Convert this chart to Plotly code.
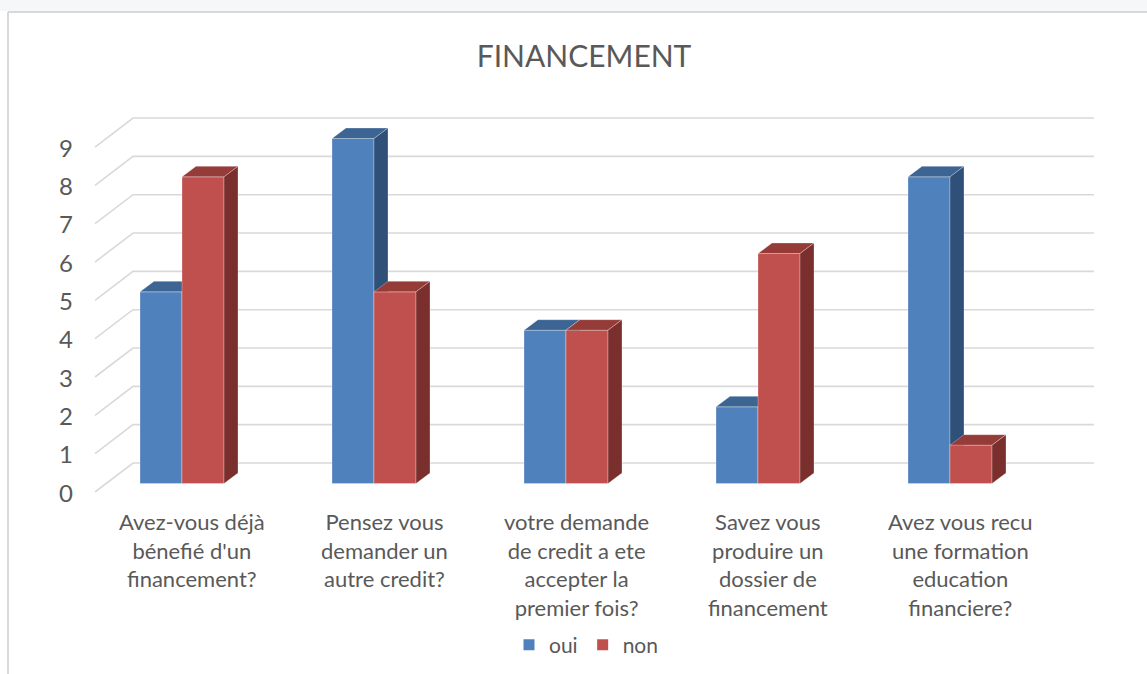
import plotly.graph_objects as go

# ---------------- data ----------------
categories = [
    "Avez-vous déjà<br>bénefié d'un<br>financement?",
    "Pensez vous<br>demander un<br>autre credit?",
    "votre demande<br>de credit a ete<br>accepter la<br>premier fois?",
    "Savez vous<br>produire un<br>dossier de<br>financement",
    "Avez vous recu<br>une formation<br>education<br>financiere?",
]
series_names = ["oui", "non"]
oui = [5, 9, 4, 2, 8]
non = [8, 5, 4, 6, 1]
y_ticks = [0, 1, 2, 3, 4, 5, 6, 7, 8, 9]
title_text = "FINANCEMENT"

# ---------------- style / geometry ----------------
PX_W, PX_H = 1147, 674
X0_PX, PX_PER_X = 182.0, 192.0      # pixel of x=0, pixels per category
Y0_PX, PX_PER_Y = 483.5, 38.33      # pixel of y=0 (bar front base), pixels per unit

BAR_W = 42 / PX_PER_X               # bar width in x units
DEP_X = 14 / PX_PER_X               # bar depth (x shift)
DEP_Y = 10.5 / PX_PER_Y             # bar depth (y shift)
FLOOR_FRONT_X = (95 - X0_PX) / PX_PER_X
FLOOR_BACK_X = (133 - X0_PX) / PX_PER_X
WALL_RIGHT_X = (1094 - X0_PX) / PX_PER_X
FRONT_DY = -8.5 / PX_PER_Y
BACK_DY = 20.5 / PX_PER_Y

TEXT = "#595959"
GRID = "#D9D9D9"
COLORS = {
    "oui": ("#4F81BD", "#3C6594", "#2F5079"),
    "non": ("#C0504D", "#953B38", "#7B2F2D"),
}
FONT = "Lato"

x_range = [-X0_PX / PX_PER_X, (PX_W - X0_PX) / PX_PER_X]
y_range = [(Y0_PX - PX_H) / PX_PER_Y, Y0_PX / PX_PER_Y]

fig = go.Figure()

# gridlines: back wall + left side diagonals
gx, gy = [], []
for v in y_ticks:
    gx += [FLOOR_FRONT_X, FLOOR_BACK_X, WALL_RIGHT_X, None]
    gy += [v + FRONT_DY, v + BACK_DY, v + BACK_DY, None]
fig.add_trace(go.Scatter(x=gx, y=gy, mode="lines",
                         line=dict(color=GRID, width=1.6),
                         hoverinfo="skip", showlegend=False))


def faces(values, left_side):
    fx, fy, tx, ty, sx, sy = [], [], [], [], [], []
    for i, v in enumerate(values):
        x0 = i - BAR_W if left_side else i
        x1 = x0 + BAR_W
        fx += [x0, x1, x1, x0, x0, None]
        fy += [0, 0, v, v, 0, None]
        tx += [x0, x1, x1 + DEP_X, x0 + DEP_X, x0, None]
        ty += [v, v, v + DEP_Y, v + DEP_Y, v, None]
        sx += [x1, x1 + DEP_X, x1 + DEP_X, x1, x1, None]
        sy += [0, DEP_Y, v + DEP_Y, v, 0, None]
    return (fx, fy), (tx, ty), (sx, sy)


for name, vals, left in [("oui", oui, True), ("non", non, False)]:
    cf, ct, cs = COLORS[name]
    (fx, fy), (tx, ty), (sx, sy) = faces(vals, left)
    for (xx, yy), col in [((fx, fy), cf), ((tx, ty), ct), ((sx, sy), cs)]:
        fig.add_trace(go.Scatter(x=xx, y=yy, mode="lines", fill="toself",
                                 fillcolor=col,
                                 line=dict(color="rgba(255,255,255,0.35)", width=0.8),
                                 hoverinfo="skip", showlegend=False))
    # legend entry
    fig.add_trace(go.Scatter(x=[None], y=[None], mode="markers", name=name,
                             marker=dict(symbol="square", size=11, color=cf)))

annotations = []
for v in y_ticks:
    annotations.append(dict(x=(75 - X0_PX) / PX_PER_X, y=v + FRONT_DY,
                            xref="x", yref="y", text=str(v), showarrow=False,
                            xanchor="right", yanchor="middle",
                            font=dict(family=FONT, size=24, color=TEXT)))
for i, c in enumerate(categories):
    annotations.append(dict(x=i + 10 / PX_PER_X, y=(Y0_PX - 506) / PX_PER_Y,
                            xref="x", yref="y", text=c, showarrow=False,
                            xanchor="center", yanchor="top", align="center",
                            font=dict(family=FONT, size=22, color=TEXT)))

shapes = [
    dict(type="rect", xref="paper", yref="paper", x0=0, x1=1,
         y0=1 - 11 / PX_H, y1=1, fillcolor="#F6F7F9", line=dict(width=0), layer="below"),
    dict(type="line", xref="paper", yref="paper", x0=8 / PX_W, x1=1,
         y0=1 - 12 / PX_H, y1=1 - 12 / PX_H, line=dict(color="#D9D9D9", width=2)),
    dict(type="line", xref="paper", yref="paper", x0=8 / PX_W, x1=8 / PX_W,
         y0=0, y1=1 - 12 / PX_H, line=dict(color="#D9D9D9", width=2)),
]

fig.update_layout(
    width=PX_W, height=PX_H,
    margin=dict(l=0, r=0, t=0, b=0),
    paper_bgcolor="white", plot_bgcolor="white",
    title=dict(text=title_text, x=584 / PX_W, y=1 - 56 / PX_H,
               xanchor="center", yanchor="middle",
               font=dict(family=FONT, size=30, color=TEXT)),
    xaxis=dict(range=x_range, visible=False, fixedrange=True),
    yaxis=dict(range=y_range, visible=False, fixedrange=True),
    showlegend=True,
    legend=dict(orientation="h", x=586 / PX_W, y=1 - 645 / PX_H,
                xanchor="center", yanchor="middle",
                font=dict(family=FONT, size=21, color=TEXT),
                itemwidth=30, tracegroupgap=0, bgcolor="rgba(0,0,0,0)"),
    annotations=annotations,
    shapes=shapes,
)

fig.write_html("out.html",
               config={"displayModeBar": False},
               post_script="document.body.style.margin='0';document.body.style.overflow='hidden';")
